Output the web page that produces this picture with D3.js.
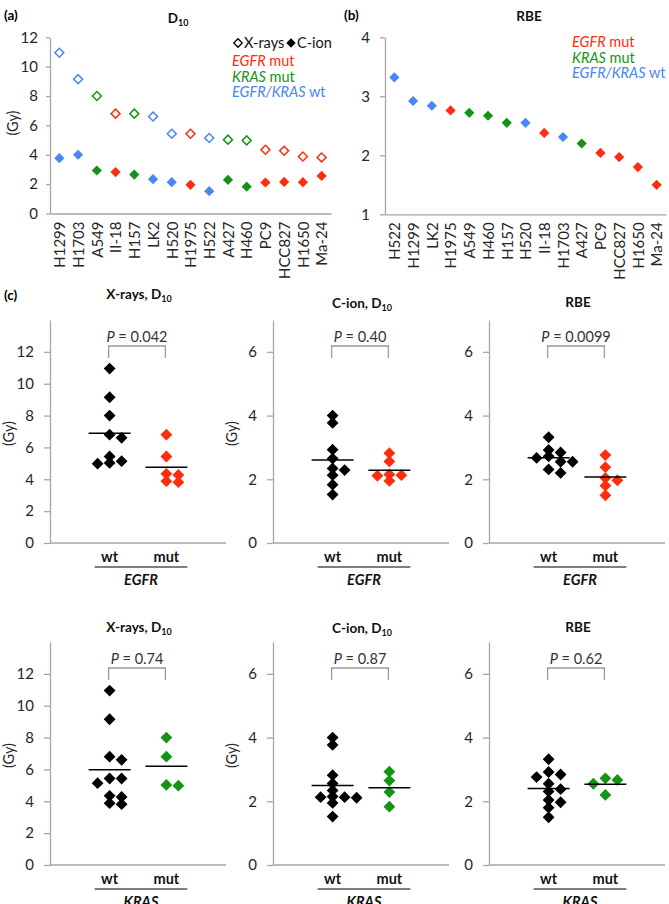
<!DOCTYPE html>
<html>
<head>
<meta charset="utf-8">
<script src="https://cdn.jsdelivr.net/npm/d3@7"></script>
<style>
  body { margin: 0; background: #fff; }
  text { font-family: Lato, "Open Sans", sans-serif; }
</style>
</head>
<body>
<svg id="fig" width="669" height="904"></svg>
<script>
// cell lines in panel (a) order (sorted by X-ray D10)
const CELL_LINES = ["H1299", "H1703", "A549", "II-18", "H157", "LK2", "H520", "H1975",
  "H522", "A427", "H460", "PC9", "HCC827", "H1650", "Ma-24"];
const GENOTYPE = ["wt", "wt", "KRAS", "EGFR", "KRAS", "wt", "wt", "EGFR",
  "wt", "KRAS", "KRAS", "EGFR", "EGFR", "EGFR", "EGFR"];
const XRAY_D10 = [10.95, 9.15, 8.0, 6.8, 6.8, 6.6, 5.43, 5.43, 5.14, 5.03, 4.98, 4.34, 4.27, 3.88, 3.82];
const CION_D10 = [3.77, 4.0, 2.93, 2.82, 2.65, 2.34, 2.13, 1.95, 1.52, 2.29, 1.83, 2.11, 2.15, 2.13, 2.56];
const RBE = [2.92, 2.31, 2.72, 2.38, 2.55, 2.84, 2.55, 2.76, 3.32, 2.2, 2.67, 2.04, 1.97, 1.8, 1.5];
// panel (b) order (sorted by RBE)
const RBE_ORDER = ["H522", "H1299", "LK2", "H1975", "A549", "H460", "H157", "H520",
  "II-18", "H1703", "A427", "PC9", "HCC827", "H1650", "Ma-24"];

const D10_TICKS = [0, 2, 4, 6, 8, 10, 12];
const RBE_TICKS = [1, 2, 3, 4];
const GENES = ["EGFR", "KRAS"];
const GROUPS = ["wt", "mut"];
const P_VALUES = { EGFR: ["0.042", "0.40", "0.0099"], KRAS: ["0.74", "0.87", "0.62"] };

const COLOR = { EGFR: "#ff2d0d", KRAS: "#149414", wt: "#4a86f5" };
const AXIS_GRAY = "#a6a6a6";
const TEXT_COL = "#262626";

const DATA = CELL_LINES.map((name, i) => ({
  name, gene: GENOTYPE[i], xray: XRAY_D10[i], cion: CION_D10[i], rbe: RBE[i]
}));

const SVG = d3.select("#fig");
const diamond = s => d3.symbol(d3.symbolSquare, s)();
const INT = d3.format("d");

function styleAxis(g, fs) {
  g.select(".domain").attr("stroke", AXIS_GRAY).attr("stroke-width", 1.3);
  g.selectAll(".tick line").attr("stroke", AXIS_GRAY).attr("stroke-width", 1.3);
  g.selectAll(".tick text").attr("fill", TEXT_COL).style("font-size", fs + "px")
    .style("font-family", "Lato, sans-serif");
}

function addTitle(x, y, main, sub, anchor) {
  const t = SVG.append("text").attr("x", x).attr("y", y)
    .attr("text-anchor", anchor || "middle")
    .attr("font-weight", "bold").attr("font-size", 13.5).attr("fill", "#111");
  t.append("tspan").text(main);
  if (sub) t.append("tspan").attr("font-size", 9).attr("dy", 3).text(sub);
  return t;
}

function addGy(x, y) {
  SVG.append("text")
    .attr("transform", `translate(${x},${y}) rotate(-90)`)
    .attr("text-anchor", "middle").attr("font-size", 14.5).attr("fill", TEXT_COL)
    .text("(Gy)");
}

function legendLine(x, y, parts, color) {
  const t = SVG.append("text").attr("x", x).attr("y", y)
    .attr("font-size", 14.5).attr("fill", color);
  parts.forEach(([s, it]) => t.append("tspan").attr("font-style", it ? "italic" : "normal").text(s));
}

// ---------- panel (a) ----------
const A_X = d3.scalePoint().domain(CELL_LINES).range([50, 331]).padding(0.5);
const A_Y = d3.scaleLinear().domain([0, 12]).range([213.5, 37.3]);

SVG.append("text").attr("x", 4).attr("y", 20).attr("font-weight", "bold")
  .attr("font-size", 13.5).text("(a)");
addTitle(178, 23, "D", "10");
addGy(18, 123);

SVG.append("g").attr("transform", "translate(50,0)")
  .call(d3.axisLeft(A_Y).tickValues(D10_TICKS).tickFormat(INT)
    .tickSize(4).tickPadding(8).tickSizeOuter(0))
  .call(g => styleAxis(g, 15));

SVG.append("g").attr("transform", `translate(0,${A_Y(0)})`)
  .call(d3.axisBottom(A_X).tickSize(0).tickSizeOuter(0))
  .call(g => styleAxis(g, 15))
  .call(g => g.selectAll(".tick text")
    .attr("transform", "rotate(-90)").attr("text-anchor", "end")
    .attr("x", -8).attr("y", 0).attr("dy", "0.35em"));

SVG.append("g").selectAll("path").data(DATA).join("path")
  .attr("d", diamond(52))
  .attr("transform", d => `translate(${A_X(d.name)},${A_Y(d.cion)}) rotate(45)`)
  .attr("fill", d => COLOR[d.gene]);

SVG.append("g").selectAll("path").data(DATA).join("path")
  .attr("d", diamond(40))
  .attr("transform", d => `translate(${A_X(d.name)},${A_Y(d.xray)}) rotate(45)`)
  .attr("fill", "#fff").attr("stroke", d => COLOR[d.gene]).attr("stroke-width", 1.5);

// legend (a)
SVG.append("path").attr("d", diamond(36))
  .attr("transform", "translate(238,43) rotate(45)")
  .attr("fill", "#fff").attr("stroke", "#000").attr("stroke-width", 1.3);
SVG.append("text").attr("x", 244).attr("y", 48).attr("font-size", 14.5).attr("fill", "#111").text("X-rays");
SVG.append("path").attr("d", diamond(44))
  .attr("transform", "translate(291,43) rotate(45)").attr("fill", "#000");
SVG.append("text").attr("x", 297).attr("y", 48).attr("font-size", 14.5).attr("fill", "#111").text("C-ion");
legendLine(232, 66, [["EGFR", true], [" mut", false]], COLOR.EGFR);
legendLine(232, 81.5, [["KRAS", true], [" mut", false]], COLOR.KRAS);
legendLine(232, 97, [["EGFR/KRAS", true], [" wt", false]], COLOR.wt);

// ---------- panel (b) ----------
const B_X = d3.scalePoint().domain(RBE_ORDER).range([385, 666]).padding(0.5);
const B_Y = d3.scaleLinear().domain([1, 4]).range([214.3, 37.3]);

SVG.append("text").attr("x", 344).attr("y", 20).attr("font-weight", "bold")
  .attr("font-size", 13.5).text("(b)");
addTitle(529, 21, "RBE");

SVG.append("g").attr("transform", "translate(385,0)")
  .call(d3.axisLeft(B_Y).tickValues(RBE_TICKS).tickFormat(INT)
    .tickSize(5).tickPadding(10).tickSizeOuter(0))
  .call(g => styleAxis(g, 15));

SVG.append("g").attr("transform", `translate(0,${B_Y(1)})`)
  .call(d3.axisBottom(B_X).tickSize(0).tickSizeOuter(0))
  .call(g => styleAxis(g, 15))
  .call(g => g.selectAll(".tick text")
    .attr("transform", "rotate(-90)").attr("text-anchor", "end")
    .attr("x", -8).attr("y", 0).attr("dy", "0.35em"));

SVG.append("g").selectAll("path").data(DATA).join("path")
  .attr("d", diamond(52))
  .attr("transform", d => `translate(${B_X(d.name)},${B_Y(d.rbe)}) rotate(45)`)
  .attr("fill", d => COLOR[d.gene]);

legendLine(572, 47, [["EGFR", true], [" mut", false]], COLOR.EGFR);
legendLine(572, 62.5, [["KRAS", true], [" mut", false]], COLOR.KRAS);
legendLine(572, 78, [["EGFR/KRAS", true], [" wt", false]], COLOR.wt);

// ---------- panel (c) ----------
SVG.append("text").attr("x", 4).attr("y", 300).attr("font-weight", "bold")
  .attr("font-size", 13.5).text("(c)");

const MEASURES = [
  { key: "xray", title: "X-rays, ", sub: "10", main: "D", max: 14, ticks: [0, 2, 4, 6, 8, 10, 12], gy: true },
  { key: "cion", title: "C-ion, ", sub: "10", main: "D", max: 7, ticks: [0, 2, 4, 6], gy: true },
  { key: "rbe", title: "RBE", sub: null, main: "", max: 7, ticks: [0, 2, 4, 6], gy: false }
];
const COL_X = [50, 273, 489];
const ROWS = [{ top: 320, bottom: 543, titleY: [299, 308, 307] },
              { top: 642, bottom: 865, titleY: [632, 633, 632] }];
const PLOT_W = 176;

// simple swarm: nudge points sideways when they overlap a higher one
function swarm(points, minGap) {
  const placed = [];
  points.slice().sort((a, b) => a.py - b.py).forEach(p => {
    for (let k = 0; ; k++) {
      const slot = k === 0 ? 0 : (k % 2 ? (k + 1) / 2 : -k / 2);
      if (!placed.some(q => q.slot === slot && Math.abs(q.py - p.py) < minGap)) {
        p.slot = slot; break;
      }
    }
    placed.push(p);
  });
  return placed;
}

GENES.forEach((gene, r) => {
  const row = ROWS[r];
  MEASURES.forEach((m, c) => {
    const x0 = COL_X[c];
    const x = d3.scalePoint().domain(GROUPS).range([x0, x0 + PLOT_W]).padding(1.05);
    const y = d3.scaleLinear().domain([0, m.max]).range([row.bottom, row.top]);

    const t = SVG.append("text").attr("x", x0 + 89).attr("y", row.titleY[c])
      .attr("text-anchor", "middle").attr("font-weight", "bold")
      .attr("font-size", 13.5).attr("fill", "#111");
    t.append("tspan").text(m.title + m.main);
    if (m.sub) t.append("tspan").attr("font-size", 9).attr("dy", 3).text(m.sub);

    if (m.gy) addGy(x0 - 36, (row.top + row.bottom) / 2 + 2);

    SVG.append("g").attr("transform", `translate(${x0},0)`)
      .call(d3.axisLeft(y).tickValues(m.ticks).tickFormat(INT)
        .tickSize(6).tickPadding(10).tickSizeOuter(0))
      .call(g => styleAxis(g, 15));
    SVG.append("line").attr("x1", x0).attr("x2", x0 + PLOT_W)
      .attr("y1", row.bottom).attr("y2", row.bottom)
      .attr("stroke", AXIS_GRAY).attr("stroke-width", 1.3);

    // group labels
    GROUPS.forEach(gname => {
      SVG.append("text").attr("x", x(gname)).attr("y", row.bottom + 19)
        .attr("text-anchor", "middle").attr("font-weight", "bold").attr("font-size", 14.5)
        .attr("fill", "#111").text(gname);
    });
    SVG.append("line").attr("x1", x("wt") - 15).attr("x2", x("mut") + 21)
      .attr("y1", row.bottom + 24).attr("y2", row.bottom + 24)
      .attr("stroke", "#000").attr("stroke-width", 1.2);
    SVG.append("text").attr("x", (x("wt") + x("mut")) / 2 + 3).attr("y", row.bottom + 42)
      .attr("text-anchor", "middle").attr("font-style", "italic").attr("font-weight", "bold")
      .attr("font-size", 14.5).attr("fill", "#111").text(gene);

    // p value bracket
    const bx1 = x("wt") - 1, bx2 = x("mut") - 1;
    SVG.append("path")
      .attr("d", `M${bx1},${row.top + 38}V${row.top + 26}H${bx2}V${row.top + 38}`)
      .attr("fill", "none").attr("stroke", "#9a9a9a").attr("stroke-width", 1.3);
    const pt = SVG.append("text").attr("x", (bx1 + bx2) / 2).attr("y", row.top + 22)
      .attr("text-anchor", "middle").attr("font-size", 14.5).attr("fill", "#333");
    pt.append("tspan").attr("font-style", "italic").text("P");
    pt.append("tspan").text(" = " + P_VALUES[gene][c]);

    // points and means
    GROUPS.forEach(gname => {
      const vals = DATA.filter(d => (gname === "mut") === (d.gene === gene)).map(d => d[m.key]);
      const pts = swarm(vals.map(v => ({ v, py: y(v) })), 6);
      const fill = gname === "mut" ? COLOR[gene] : "#000";
      SVG.append("g").selectAll("path").data(pts).join("path")
        .attr("d", diamond(70))
        .attr("transform", d => `translate(${x(gname) + d.slot * 12},${d.py}) rotate(45)`)
        .attr("fill", fill);
      const mean = d3.mean(vals);
      SVG.append("line").attr("x1", x(gname) - 21).attr("x2", x(gname) + 21)
        .attr("y1", y(mean)).attr("y2", y(mean))
        .attr("stroke", "#000").attr("stroke-width", 1.5);
    });
  });
});
</script>
</body>
</html>
